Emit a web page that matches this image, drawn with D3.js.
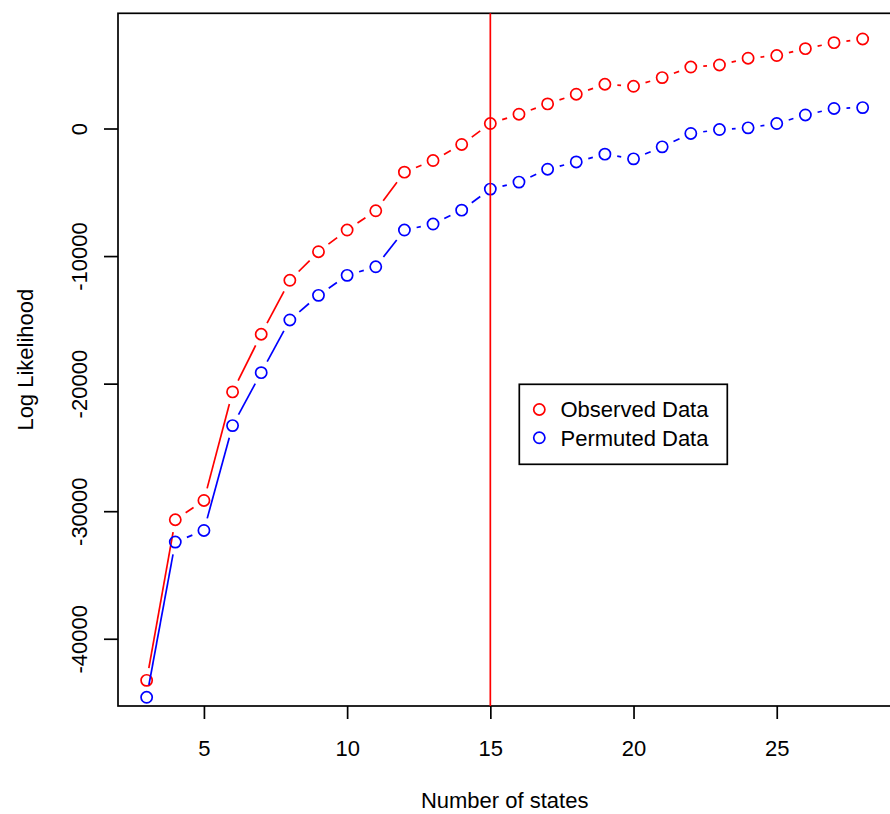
<!DOCTYPE html>
<html>
<head>
<meta charset="utf-8">
<script src="https://cdn.jsdelivr.net/npm/d3@7"></script>
<style>
  body { margin: 0; background: #fff; }
  svg text { font-family: "Liberation Sans", Arial, Helvetica, sans-serif; }
</style>
</head>
<body>
<div id="chart"></div>
<script>
// number of states on the x axis
const states = [3, 4, 5, 6, 7, 8, 9, 10, 11, 12, 13, 14, 15, 16, 17, 18, 19, 20, 21, 22, 23, 24, 25, 26, 27, 28];

const observed = [
  -43260, -30670, -29160, -20650, -16130, -11900, -9660, -7960, -6450, -3420,
  -2510, -1250, 390, 1120, 1930, 2690, 3470, 3310, 3990, 4820,
  4980, 5510, 5720, 6260, 6730, 7020,
];

const permuted = [
  -44590, -32420, -31510, -23290, -19140, -15010, -13080, -11510, -10840, -7960,
  -7490, -6400, -4750, -4200, -3190, -2620, -2010, -2380, -1440, -390,
  -80, 50, 390, 1060, 1570, 1640,
];

const x_ticks = [5, 10, 15, 20, 25];
const y_ticks = [-40000, -30000, -20000, -10000, 0];
const chosen_states = 15;

const series = [
  { name: "Observed Data", values: observed, color: "#ff0000" },
  { name: "Permuted Data", values: permuted, color: "#0000ff" },
];

const width = 890;
const height = 814;
const plot = { left: 118, right: 891.3, top: 13.3, bottom: 706 };
const font_size = 22;
const lw = 1.7;

const svg = d3
  .select("#chart")
  .append("svg")
  .attr("width", width)
  .attr("height", height);

// R style 4% padding, ylim taken from the observed series
const x_ext = d3.extent(states);
const x_pad = (x_ext[1] - x_ext[0]) * 0.04;
const X = d3
  .scaleLinear()
  .domain([x_ext[0] - x_pad, x_ext[1] + x_pad])
  .range([plot.left, plot.right]);

const y_ext = d3.extent(observed);
const y_pad = (y_ext[1] - y_ext[0]) * 0.04;
const Y = d3
  .scaleLinear()
  .domain([y_ext[0] - y_pad, y_ext[1] + y_pad])
  .range([plot.bottom, plot.top]);

// x axis
const x_axis = svg
  .append("g")
  .attr("transform", `translate(0, ${plot.bottom})`)
  .call(d3.axisBottom(X).tickValues(x_ticks).tickSize(13).tickSizeOuter(0).tickFormat((d) => String(d)));
x_axis.select(".domain").remove();
x_axis.selectAll("line").attr("stroke", "#000").attr("stroke-width", lw);
x_axis
  .selectAll("text")
  .attr("y", 50)
  .attr("dy", null)
  .attr("fill", "#000")
  .attr("font-size", font_size)
  .attr("font-family", "Liberation Sans, Arial, sans-serif");

// y axis, labels parallel to the axis
const y_axis = svg
  .append("g")
  .attr("transform", `translate(${plot.left}, 0)`)
  .call(d3.axisLeft(Y).tickValues(y_ticks).tickSize(14).tickSizeOuter(0).tickFormat((d) => String(d)));
y_axis.select(".domain").remove();
y_axis.selectAll("line").attr("stroke", "#000").attr("stroke-width", lw);
y_axis
  .selectAll("text")
  .attr("x", null)
  .attr("dy", null)
  .attr("text-anchor", "middle")
  .attr("transform", "translate(-31, 0) rotate(-90)")
  .attr("fill", "#000")
  .attr("font-size", font_size)
  .attr("font-family", "Liberation Sans, Arial, sans-serif");

// box around the plot
svg
  .append("rect")
  .attr("x", plot.left)
  .attr("y", plot.top)
  .attr("width", plot.right - plot.left)
  .attr("height", plot.bottom - plot.top)
  .attr("fill", "none")
  .attr("stroke", "#000")
  .attr("stroke-width", lw);

// axis titles
svg
  .append("text")
  .attr("x", (plot.left + plot.right) / 2)
  .attr("y", 808)
  .attr("text-anchor", "middle")
  .attr("font-size", font_size)
  .text("Number of states");

svg
  .append("text")
  .attr("transform", `translate(33, ${(plot.top + plot.bottom) / 2}) rotate(-90)`)
  .attr("text-anchor", "middle")
  .attr("font-size", font_size)
  .text("Log Likelihood");

// type = "b": points joined by segments that stop short of each point
const gap = 12.5;
const r = 5.6;

series.forEach((s) => {
  const pts = states.map((st, i) => [X(st), Y(s.values[i])]);
  const segs = [];
  for (let i = 0; i < pts.length - 1; i++) {
    const [x0, y0] = pts[i];
    const [x1, y1] = pts[i + 1];
    const len = Math.hypot(x1 - x0, y1 - y0);
    if (len <= 2 * gap) continue;
    const ux = (x1 - x0) / len;
    const uy = (y1 - y0) / len;
    segs.push([x0 + ux * gap, y0 + uy * gap, x1 - ux * gap, y1 - uy * gap]);
  }
  const g = svg.append("g");
  g.selectAll("line")
    .data(segs)
    .enter()
    .append("line")
    .attr("x1", (d) => d[0])
    .attr("y1", (d) => d[1])
    .attr("x2", (d) => d[2])
    .attr("y2", (d) => d[3])
    .attr("stroke", s.color)
    .attr("stroke-width", lw);
  g.selectAll("circle")
    .data(pts)
    .enter()
    .append("circle")
    .attr("cx", (d) => d[0])
    .attr("cy", (d) => d[1])
    .attr("r", r)
    .attr("fill", "none")
    .attr("stroke", s.color)
    .attr("stroke-width", lw);
});

// chosen number of states
svg
  .append("line")
  .attr("x1", X(chosen_states))
  .attr("x2", X(chosen_states))
  .attr("y1", plot.top)
  .attr("y2", plot.bottom)
  .attr("stroke", "#ff0000")
  .attr("stroke-width", lw);

// legend
const legend = svg.append("g");
legend
  .append("rect")
  .attr("x", 519.3)
  .attr("y", 384.3)
  .attr("width", 208)
  .attr("height", 80)
  .attr("fill", "#fff")
  .attr("stroke", "#000")
  .attr("stroke-width", lw);

series.forEach((s, i) => {
  const cy = 409.5 + i * 28.3;
  legend
    .append("circle")
    .attr("cx", 539.3)
    .attr("cy", cy)
    .attr("r", r)
    .attr("fill", "none")
    .attr("stroke", s.color)
    .attr("stroke-width", lw);
  legend
    .append("text")
    .attr("x", 560.5)
    .attr("y", cy)
    .attr("dy", "0.35em")
    .attr("font-size", font_size)
    .text(s.name);
});
</script>
</body>
</html>
